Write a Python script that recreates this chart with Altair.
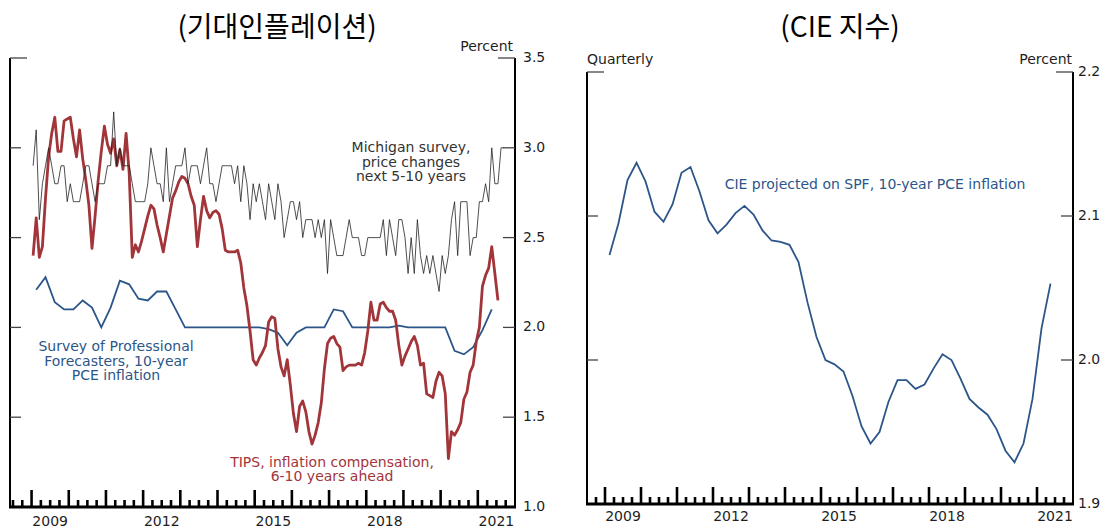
import altair as alt
import pandas as pd

START_YEAR = 2009

# Michigan survey, price changes next 5-10 years (monthly, from Jan 2009)
michigan = [
    2.9, 3.1, 2.6, 2.8, 2.9, 3.0, 2.9, 2.8, 2.8, 2.9, 2.9, 2.7,
    2.8, 2.7, 2.7, 2.7, 2.8, 2.9, 2.9, 2.8, 2.7, 2.8, 2.8, 2.8,
    2.9, 2.9, 3.2, 2.9, 3.0, 2.9, 2.9, 2.9, 2.8, 2.7, 2.7, 2.7,
    2.7, 2.8, 3.0, 2.9, 2.8, 2.8, 2.7, 3.0, 2.7, 2.8, 2.9, 2.9,
    2.9, 3.0, 2.8, 2.9, 2.9, 2.9, 2.8, 2.9, 3.0, 2.8, 2.8, 2.7,
    2.8, 2.9, 2.9, 2.9, 2.9, 2.8, 2.9, 2.7, 2.9, 2.8, 2.6, 2.8,
    2.7, 2.8, 2.7, 2.6, 2.8, 2.7, 2.6, 2.8, 2.7, 2.5, 2.6, 2.7,
    2.7, 2.6, 2.7, 2.5, 2.6, 2.6, 2.6, 2.5, 2.6, 2.5, 2.6, 2.3,
    2.6, 2.5, 2.4, 2.4, 2.4, 2.5, 2.6, 2.5, 2.5, 2.5, 2.4, 2.4,
    2.5, 2.5, 2.5, 2.5, 2.5, 2.6, 2.4, 2.6, 2.5, 2.4, 2.6, 2.6,
    2.5, 2.3, 2.5, 2.3, 2.6, 2.4, 2.3, 2.4, 2.3, 2.4, 2.3, 2.2,
    2.4, 2.3, 2.4, 2.6, 2.7, 2.4, 2.7, 2.7, 2.7, 2.4, 2.5, 2.5,
    2.7, 2.7, 2.8, 2.7, 3.0, 2.8, 2.8, 3.0, 3.0,
]

# TIPS, inflation compensation, 6-10 years ahead (monthly, from Jan 2009)
tips = [
    2.40, 2.61, 2.39, 2.45, 2.72, 2.95, 3.08, 3.17, 2.98, 2.98, 3.15, 3.16,
    3.17, 3.05, 2.95, 3.10, 2.94, 2.82, 2.68, 2.44, 2.62, 2.82, 2.98, 3.12,
    3.02, 2.97, 3.05, 2.90, 2.99, 2.88, 3.08, 2.86, 2.39, 2.46, 2.42, 2.48,
    2.55, 2.62, 2.68, 2.66, 2.57, 2.50, 2.42, 2.52, 2.62, 2.72, 2.76, 2.81,
    2.84, 2.83, 2.80, 2.73, 2.68, 2.45, 2.60, 2.73, 2.65, 2.61, 2.64, 2.65,
    2.63, 2.55, 2.43, 2.42, 2.42, 2.42, 2.43, 2.36, 2.22, 2.12, 1.98, 1.82,
    1.79, 1.83, 1.86, 1.90, 2.03, 2.06, 2.05, 1.88, 1.78, 1.73, 1.82, 1.68,
    1.52, 1.42, 1.56, 1.59, 1.53, 1.42, 1.35, 1.40, 1.47, 1.58, 1.77, 1.91,
    1.94, 1.95, 1.91, 1.89, 1.76, 1.78, 1.79, 1.79, 1.79, 1.80, 1.79, 1.86,
    1.98, 2.14, 2.04, 2.04, 2.13, 2.14, 2.11, 2.09, 2.09, 2.04, 1.90, 1.79,
    1.84, 1.88, 1.92, 1.95, 1.90, 1.79, 1.80, 1.63, 1.62, 1.61, 1.70, 1.75,
    1.73, 1.63, 1.27, 1.42, 1.40, 1.43, 1.47, 1.60, 1.64, 1.75, 1.79, 1.92,
    2.00, 2.23, 2.29, 2.33, 2.45, 2.30, 2.15,
]

# Survey of Professional Forecasters, 10-year PCE inflation (quarterly, from 2009Q1)
spf = [
    2.21, 2.28, 2.14, 2.10, 2.10, 2.15, 2.11, 2.00, 2.11, 2.26,
    2.24, 2.16, 2.15, 2.20, 2.20, 2.10, 2.00, 2.00, 2.00, 2.00,
    2.00, 2.00, 2.00, 2.00, 2.00, 1.99, 1.97, 1.90, 1.97, 2.00,
    2.00, 2.00, 2.10, 2.09, 2.00, 2.00, 2.00, 2.00, 2.00, 2.01,
    2.00, 2.00, 2.00, 2.00, 2.00, 1.87, 1.85, 1.89, 1.985, 2.10,
]

# CIE projected on SPF, 10-year PCE inflation (quarterly, from 2009Q1)
cie = [
    2.073, 2.095, 2.125, 2.137, 2.124, 2.103, 2.096, 2.108, 2.130, 2.134,
    2.117, 2.097, 2.088, 2.094, 2.102, 2.107, 2.101, 2.090, 2.083, 2.082,
    2.080, 2.068, 2.040, 2.016, 2.000, 1.997, 1.992, 1.975, 1.954, 1.942,
    1.950, 1.971, 1.986, 1.986, 1.980, 1.983, 1.994, 2.004, 2.000, 1.987,
    1.973, 1.967, 1.962, 1.952, 1.937, 1.929, 1.942, 1.973, 2.022, 2.053,
]

left_ticks = [1.0, 1.5, 2.0, 2.5, 3.0, 3.5]
right_ticks = [1.9, 2.0, 2.1, 2.2]
year_labels = [2009, 2012, 2015, 2018, 2021]


def monthly(vals):
    return pd.DataFrame({"t": [START_YEAR + (i + 0.5) / 12 for i in range(len(vals))], "v": vals})


def quarterly(vals):
    return pd.DataFrame({"t": [START_YEAR + (i + 0.5) / 4 for i in range(len(vals))], "v": vals})


FONT = "DejaVu Sans"
KFONT = "Noto Sans CJK KR"
RED = "#a2353a"
BLUE = "#2c5689"
INK = "#1e1e1e"
one = pd.DataFrame({"k": [0]})

# plot-area geometry (px inside the view)
L = dict(x0=2, x1=507, y0=50, y1=499, dom=[2008.42, 2022.0], ydom=[1.0, 3.5])
R = dict(x0=579, x1=1065, y0=64, y1=496, dom=[2008.5, 2022.0], ydom=[1.9, 2.2])


def frame(P, yticks, label_y, label_dx):
    XS = alt.Scale(domain=P["dom"], range=[P["x0"], P["x1"]])
    YS = alt.Scale(domain=P["ydom"], range=[P["y1"], P["y0"]])
    lo, hi = P["dom"]
    qs = [q / 4 for q in range(int(lo * 4) + 1, int(hi * 4))]
    small = pd.DataFrame({"t": [q for q in qs if q != int(q)]})
    tall = pd.DataFrame({"t": [q for q in qs if q == int(q)]})
    ymin, ymax = P["ydom"]
    inner = pd.DataFrame({"v": [v for v in yticks if ymin < v < ymax]})
    top = pd.DataFrame({"v": [ymax]})
    base = pd.DataFrame({"v": [ymin]})
    span = pd.DataFrame({"a": [ymax], "b": [ymin]})
    labs = pd.DataFrame({"v": yticks})
    yrs = pd.DataFrame({"t": [y + 0.5 for y in year_labels], "lab": [str(y) for y in year_labels]})

    x = alt.X("t:Q", scale=XS, axis=None)
    y = alt.Y("v:Q", scale=YS, axis=None)
    layers = [
        alt.Chart(small).mark_rule(color="black", strokeWidth=2.6).encode(
            x=x, y=alt.value(P["y1"]), y2=alt.value(P["y1"] - 7)),
        alt.Chart(tall).mark_rule(color="black", strokeWidth=2.6).encode(
            x=x, y=alt.value(P["y1"]), y2=alt.value(P["y1"] - 17)),
        alt.Chart(base).mark_rule(color="black", strokeWidth=3).encode(
            y=y, x=alt.value(P["x0"] - 1), x2=alt.value(P["x1"] + 1)),
        alt.Chart(span).mark_rule(color="black", strokeWidth=2).encode(
            y=alt.Y("a:Q", scale=YS, axis=None), y2="b:Q", x=alt.value(P["x0"])),
        alt.Chart(span).mark_rule(color="black", strokeWidth=2).encode(
            y=alt.Y("a:Q", scale=YS, axis=None), y2="b:Q", x=alt.value(P["x1"])),
        alt.Chart(inner).mark_rule(color="#444", strokeWidth=1.3).encode(
            y=y, x=alt.value(P["x0"]), x2=alt.value(P["x0"] + 11)),
        alt.Chart(inner).mark_rule(color="#444", strokeWidth=1.3).encode(
            y=y, x=alt.value(P["x1"] - 12), x2=alt.value(P["x1"])),
        alt.Chart(top).mark_rule(color="#444", strokeWidth=1.3).encode(
            y=y, x=alt.value(P["x0"]), x2=alt.value(P["x0"] + 17)),
        alt.Chart(top).mark_rule(color="#444", strokeWidth=1.3).encode(
            y=y, x=alt.value(P["x1"] - 17), x2=alt.value(P["x1"])),
        alt.Chart(labs).mark_text(align="left", baseline="middle", font=FONT, fontSize=14, color=INK).encode(
            y=y, x=alt.value(P["x1"] + label_dx), text=alt.Text("v:Q", format=".1f")),
        alt.Chart(yrs).mark_text(align="center", baseline="middle", font=FONT, fontSize=14, color=INK).encode(
            x=x, y=alt.value(label_y), text="lab:N"),
    ]
    return layers, x, y


# ---------------- left panel ----------------
l_layers, lx, ly = frame(L, left_ticks, 513.5, 8)
left = alt.layer(
    alt.Chart(quarterly(spf)).mark_line(color=BLUE, strokeWidth=1.8).encode(x=lx, y=ly),
    alt.Chart(monthly(tips)).mark_line(color=RED, strokeWidth=2.8, strokeJoin="round").encode(x=lx, y=ly),
    alt.Chart(monthly(michigan)).mark_line(color="#222", strokeWidth=0.8).encode(x=lx, y=ly),
    *l_layers,
    alt.Chart(one).mark_text(font=KFONT, fontSize=28, color="black", align="center", baseline="alphabetic").encode(
        x=alt.value(269), y=alt.value(29), text=alt.value("(기대인플레이션)")),
    alt.Chart(one).mark_text(font=FONT, fontSize=14, color=INK, align="right", baseline="middle").encode(
        x=alt.value(505), y=alt.value(39), text=alt.value("Percent")),
    alt.Chart(one).mark_text(font=FONT, fontSize=14, color="#333", align="center", baseline="middle",
                             lineHeight=14.5).encode(
        x=alt.value(403), y=alt.value(140),
        text=alt.value(["Michigan survey,", "price changes", "next 5-10 years"])),
    alt.Chart(one).mark_text(font=FONT, fontSize=14, color=BLUE, align="center", baseline="middle",
                             lineHeight=14.5).encode(
        x=alt.value(108), y=alt.value(339),
        text=alt.value(["Survey of Professional", "Forecasters, 10-year", "PCE inflation"])),
    alt.Chart(one).mark_text(font=FONT, fontSize=14, color=RED, align="center", baseline="middle",
                             lineHeight=14).encode(
        x=alt.value(324), y=alt.value(455),
        text=alt.value(["TIPS, inflation compensation,", "6-10 years ahead"])),
)

# ---------------- right panel ----------------
r_layers, rx, ry = frame(R, right_ticks, 509, 5)
right = alt.layer(
    alt.Chart(quarterly(cie)).mark_line(color=BLUE, strokeWidth=1.8).encode(x=rx, y=ry),
    *r_layers,
    alt.Chart(one).mark_text(font=KFONT, fontSize=28, color="black", align="center", baseline="alphabetic").encode(
        x=alt.value(832), y=alt.value(29), text=alt.value("(CIE 지수)")),
    alt.Chart(one).mark_text(font=FONT, fontSize=14, color=INK, align="left", baseline="middle").encode(
        x=alt.value(579), y=alt.value(52), text=alt.value("Quarterly")),
    alt.Chart(one).mark_text(font=FONT, fontSize=14, color=INK, align="right", baseline="middle").encode(
        x=alt.value(1064), y=alt.value(52), text=alt.value("Percent")),
    alt.Chart(one).mark_text(font=FONT, fontSize=14, color=BLUE, align="center", baseline="middle").encode(
        x=alt.value(867), y=alt.value(177), text=alt.value("CIE projected on SPF, 10-year PCE inflation")),
)

chart = alt.layer(left, right).resolve_scale(x="independent", y="independent").properties(
    width=1093, height=522, padding=0, autosize=alt.AutoSizeParams(type="none")
).configure_view(strokeWidth=0)

chart.save("out.html", embed_options={"renderer": "svg", "actions": False})
